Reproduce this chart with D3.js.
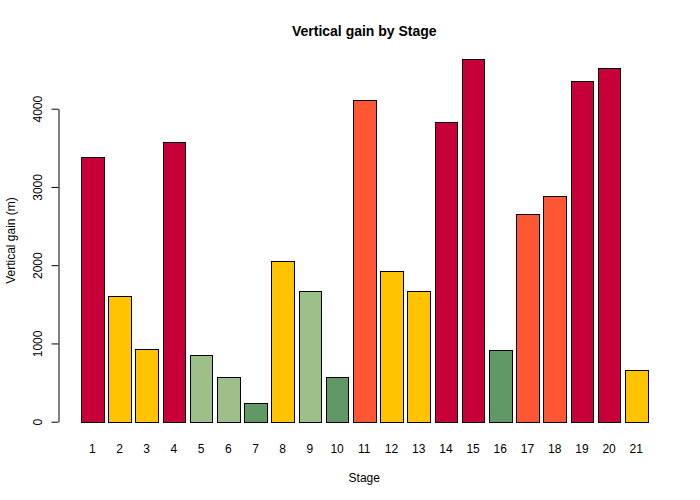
<!DOCTYPE html>
<html>
<head>
<meta charset="utf-8">
<script src="https://cdn.jsdelivr.net/npm/d3@7"></script>
<style>
  body { margin: 0; background: #fff; }
  text { font-family: "Liberation Sans", Arial, sans-serif; fill: #000; }
</style>
</head>
<body>
<div id="chart"></div>
<script>
// stage data
var stages = ["1","2","3","4","5","6","7","8","9","10","11","12","13","14","15","16","17","18","19","20","21"];
var gain = [3385, 1610, 930, 3570, 850, 570, 240, 2055, 1670, 570, 4105, 1925, 1670, 3825, 4630, 915, 2660, 2880, 4350, 4515, 660];
var stageType = ["mountain","hilly","hilly","mountain","flat","flat","tt","hilly","flat","tt","medium","hilly","hilly","mountain","mountain","tt","medium","medium","mountain","mountain","hilly"];
var yTicks = [0, 1000, 2000, 3000, 4000];

var typeColors = {
  mountain: "#C70039",
  medium: "#FF5733",
  hilly: "#FFC300",
  flat: "#9DC08B",
  tt: "#609966"
};

var W = 700, H = 500;
// plot region (R-style, 4% padding on each axis)
var plotLeft = 58.3, plotRight = 670.3;

var svg = d3.select("#chart").append("svg")
  .attr("width", W)
  .attr("height", H);

// x: bars of width 1 with 0.2 spacing, like barplot
var x = d3.scaleLinear()
  .domain([-0.8, 26.2])
  .range([plotLeft, plotRight]);

var y = d3.scaleLinear()
  .domain([0, 4000])
  .range([421.7, 108.7]);

function barLeft(i) { return 0.2 + i * 1.2; }

// bars
svg.selectAll("rect.bar")
  .data(gain)
  .enter()
  .append("rect")
  .attr("class", "bar")
  .attr("x", function(d, i) { return Math.round(x(barLeft(i))) + 0.5; })
  .attr("width", function(d, i) { return Math.round(x(barLeft(i) + 1)) - Math.round(x(barLeft(i))); })
  .attr("y", function(d) { return Math.round(y(d)) + 0.5; })
  .attr("height", function(d) { return Math.round(y(0)) - Math.round(y(d)); })
  .attr("fill", function(d, i) { return typeColors[stageType[i]]; })
  .attr("stroke", "#000")
  .attr("stroke-width", 1);

// y axis
var yAxis = svg.append("g")
  .attr("transform", "translate(" + (Math.round(plotLeft) + 0.5) + ",0)")
  .call(d3.axisLeft(y).tickValues(yTicks).tickSize(7).tickSizeOuter(0).tickFormat(d3.format("d")));
yAxis.select(".domain").attr("stroke", "#000");
yAxis.selectAll(".tick line").attr("stroke", "#000");
yAxis.selectAll(".tick text")
  .attr("font-size", 12)
  .attr("font-family", "Liberation Sans, Arial, sans-serif")
  .attr("x", null)
  .attr("dy", null)
  .attr("transform", "translate(-17,0) rotate(-90)")
  .attr("text-anchor", "middle")
  .attr("dominant-baseline", "auto")
  .attr("y", 0);

// x labels (no axis line)
svg.selectAll("text.xlab")
  .data(stages)
  .enter()
  .append("text")
  .attr("class", "xlab")
  .attr("x", function(d, i) { return x(barLeft(i) + 0.5); })
  .attr("y", 453)
  .attr("text-anchor", "middle")
  .attr("font-size", 12)
  .text(function(d) { return d; });

// title
svg.append("text")
  .attr("x", (plotLeft + plotRight) / 2)
  .attr("y", 36)
  .attr("text-anchor", "middle")
  .attr("font-size", 14)
  .attr("font-weight", "bold")
  .text("Vertical gain by Stage");

// axis titles
svg.append("text")
  .attr("x", (plotLeft + plotRight) / 2)
  .attr("y", 482)
  .attr("text-anchor", "middle")
  .attr("font-size", 12)
  .text("Stage");

svg.append("text")
  .attr("transform", "translate(15," + 240.5 + ") rotate(-90)")
  .attr("text-anchor", "middle")
  .attr("font-size", 12)
  .text("Vertical gain (m)");
</script>
</body>
</html>
